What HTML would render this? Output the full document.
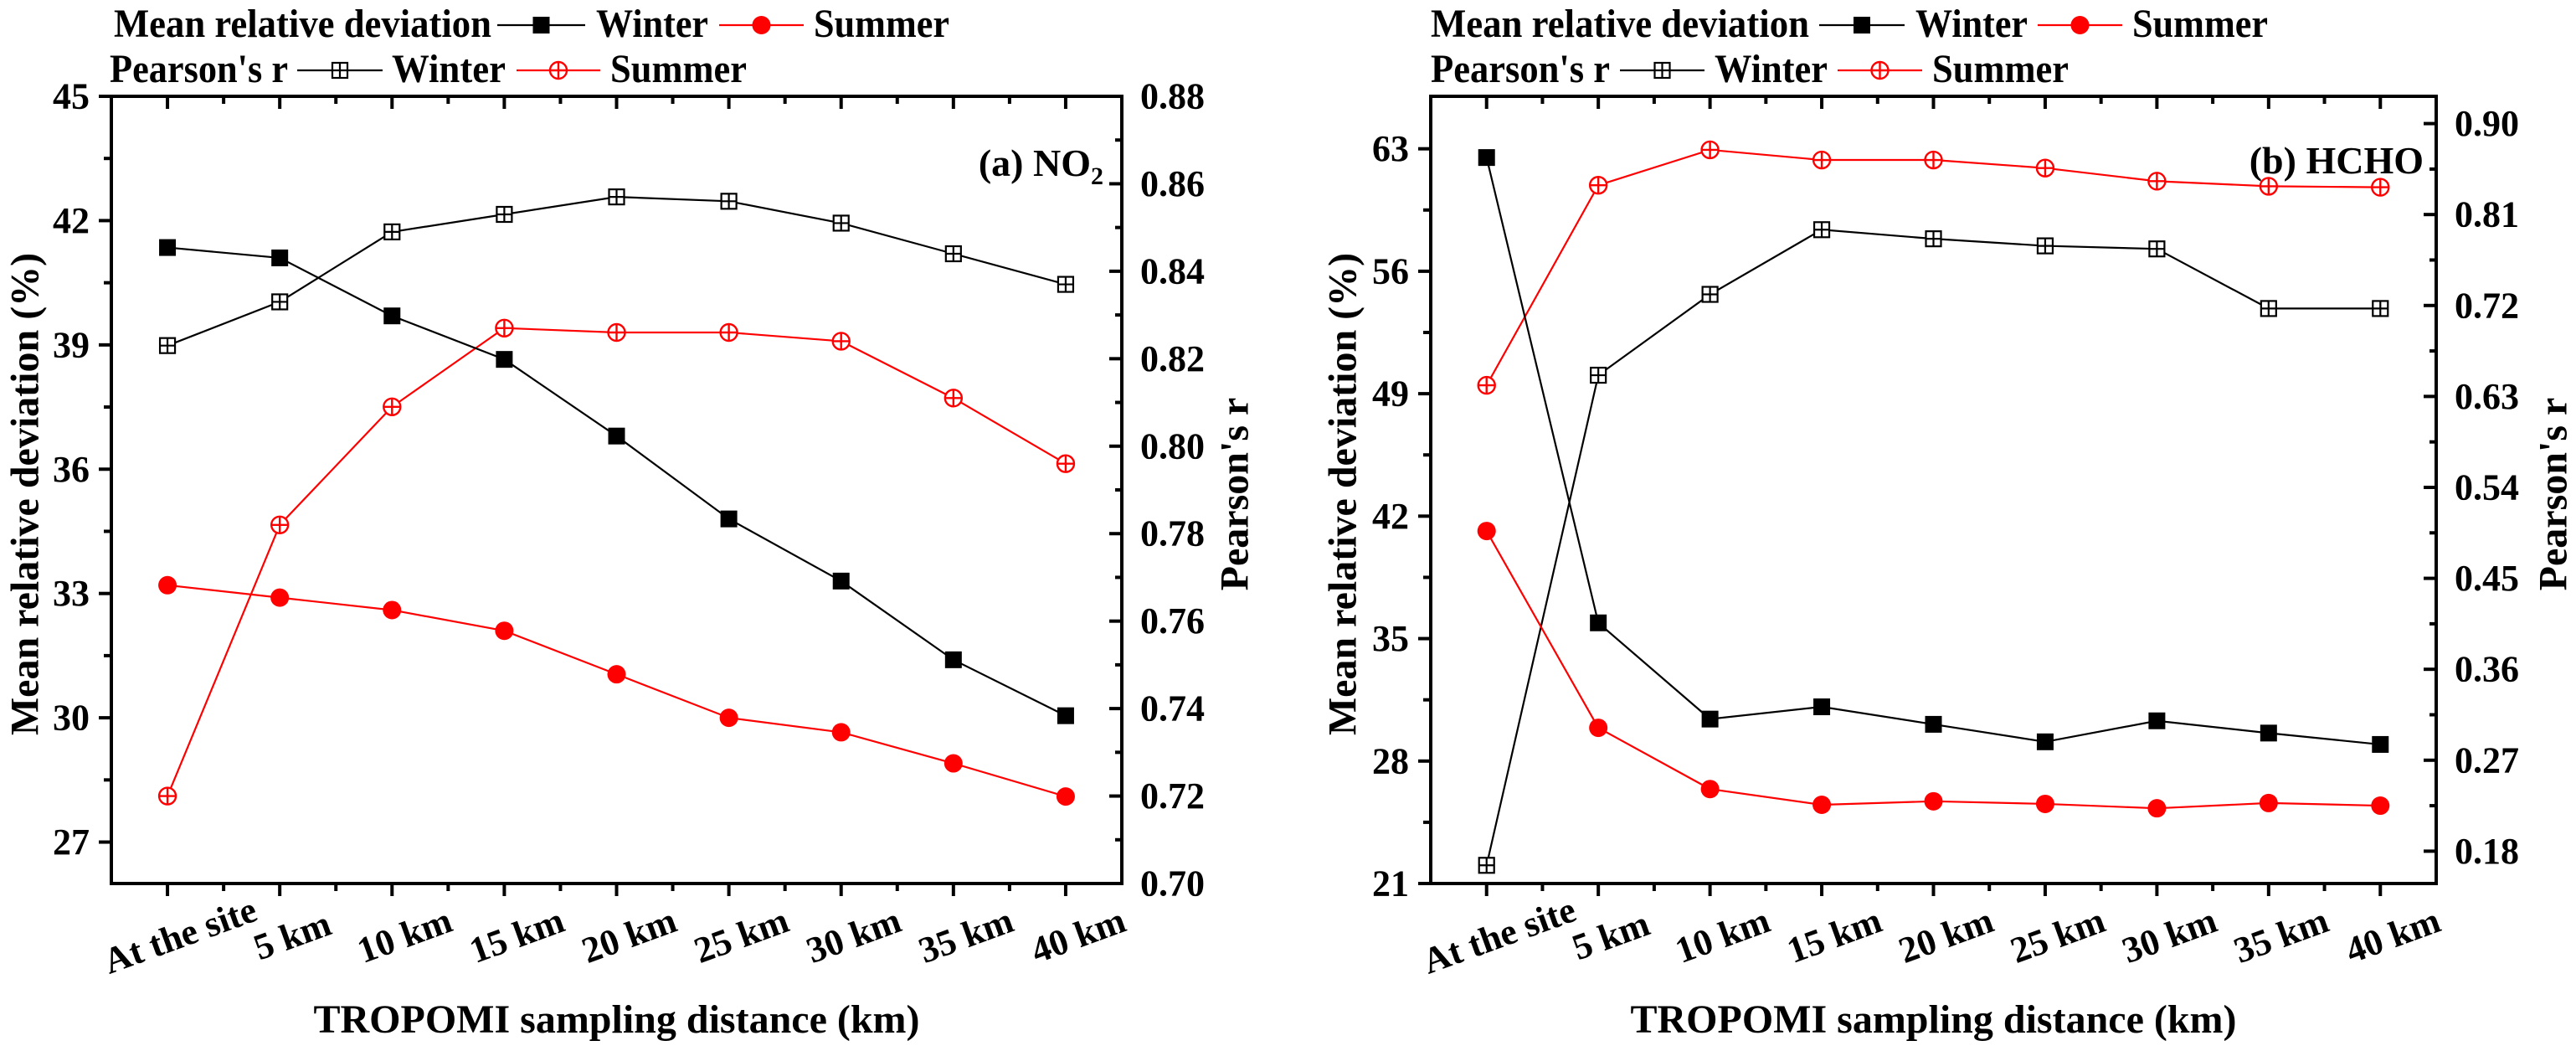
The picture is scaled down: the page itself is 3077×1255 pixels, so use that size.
<!DOCTYPE html>
<html><head><meta charset="utf-8"><style>
html,body{margin:0;padding:0;background:#fff;}
svg, svg text{font-family:"Liberation Serif","Times New Roman",serif !important;font-weight:bold;}
svg text{fill:#000;}
</style></head><body>
<svg id="chart" width="3077" height="1250" viewBox="0 0 3077 1250" font-family="Liberation Serif, serif" font-weight="bold" xmlns="http://www.w3.org/2000/svg"></svg>
<script>
const categories = ["At the site","5 km","10 km","15 km","20 km","25 km","30 km","35 km","40 km"];
// Panel (a) NO2
const no2MrdWinter = [41.35,41.1,39.7,38.65,36.8,34.8,33.3,31.4,30.05];
const no2MrdSummer = [33.2,32.9,32.6,32.1,31.05,30.0,29.65,28.9,28.1];
const no2RWinter = [0.823,0.833,0.849,0.853,0.857,0.856,0.851,0.844,0.837];
const no2RSummer = [0.720,0.782,0.809,0.827,0.826,0.826,0.824,0.811,0.796];
const no2LeftTicks = [27,30,33,36,39,42,45];
const no2RightTicks = ["0.70","0.72","0.74","0.76","0.78","0.80","0.82","0.84","0.86","0.88"];
// Panel (b) HCHO
const hchoMrdWinter = [62.5,35.9,30.4,31.1,30.1,29.1,30.3,29.6,28.95];
const hchoMrdSummer = [41.15,29.9,26.4,25.5,25.7,25.55,25.3,25.6,25.45];
const hchoRWinter = [0.166,0.651,0.731,0.795,0.786,0.779,0.776,0.717,0.717];
const hchoRSummer = [0.641,0.839,0.874,0.864,0.864,0.856,0.843,0.838,0.837];
const hchoLeftTicks = [21,28,35,42,49,56,63];
const hchoRightTicks = ["0.18","0.27","0.36","0.45","0.54","0.63","0.72","0.81","0.90"];

const NS="http://www.w3.org/2000/svg";
const svg=document.getElementById('chart');
const FF='Liberation Serif, serif';
function mk(tag,attrs,parent){const e=document.createElementNS(NS,tag);for(const k in attrs)e.setAttribute(k,attrs[k]);(parent||svg).appendChild(e);return e;}
function txt(s,attrs,parent){attrs['font-family']=FF;attrs['font-weight']='bold';const e=mk('text',attrs,parent);e.textContent=s;return e;}

function panel(cfg){
  const g=mk('g',{});
  
  
  const L=cfg.left,R=cfg.right,T=115,B=1055;
  const step=(R-L)/categories.length;
  const xS=i=>L+step*(i+0.5);
  const yL=v=>B-(v-cfg.lmin)/(cfg.lmax-cfg.lmin)*(B-T);
  const yR=v=>B-(v-cfg.rmin)/(cfg.rmax-cfg.rmin)*(B-T);
  const fr=mk('rect',{x:L,y:T,width:R-L,height:B-T,fill:'none',stroke:'#000','stroke-width':4},g);
  
  
  for(let i=0;i<categories.length;i++){
    const x=xS(i);
    mk('line',{x1:x,y1:B,x2:x,y2:B+15,stroke:'#000','stroke-width':4},g);
    mk('line',{x1:x,y1:T,x2:x,y2:T+15,stroke:'#000','stroke-width':4},g);
    const xm=x-step/2;
    if(i>0){mk('line',{x1:xm,y1:B,x2:xm,y2:B+9,stroke:'#000','stroke-width':4},g);
    mk('line',{x1:xm,y1:T,x2:xm,y2:T+9,stroke:'#000','stroke-width':4},g);}
    const cx=x+15,cy=1117;
    const t=txt(categories[i],{x:cx,y:cy,'text-anchor':'middle','dominant-baseline':'central','font-size':44,transform:`rotate(-20 ${cx} ${cy})`},g);
    
    
  }
  const lt=cfg.lticks, ls=lt[1]-lt[0];
  for(const v of lt){
    const y=yL(v);
    mk('line',{x1:L-15,y1:y,x2:L,y2:y,stroke:'#000','stroke-width':4},g);
    const t=txt(String(v),{x:L-26,y:y,'text-anchor':'end','dominant-baseline':'central','font-size':44},g);
    
    
    const vm=v+ls/2; if(vm<cfg.lmax){const ym=yL(vm);mk('line',{x1:L-9,y1:ym,x2:L,y2:ym,stroke:'#000','stroke-width':4},g);}
    const vm2=v-ls/2; if(v===lt[0]&&vm2>cfg.lmin){const ym=yL(vm2);mk('line',{x1:L-9,y1:ym,x2:L,y2:ym,stroke:'#000','stroke-width':4},g);}
  }
  const rt=cfg.rticks.map(Number), rs=rt[1]-rt[0];
  cfg.rticks.forEach((lab,k)=>{
    const v=rt[k],y=yR(v);
    mk('line',{x1:R-15,y1:y,x2:R,y2:y,stroke:'#000','stroke-width':4},g);
    const t=txt(lab,{x:R+22,y:y,'text-anchor':'start','dominant-baseline':'central','font-size':44},g);
    
    
    const vm=v+rs/2; if(vm<cfg.rmax){const ym=yR(vm);mk('line',{x1:R-8,y1:ym,x2:R,y2:ym,stroke:'#000','stroke-width':4},g);}
    if(k===0&&v-rs/2>cfg.rmin){const ym=yR(v-rs/2);mk('line',{x1:R-8,y1:ym,x2:R,y2:ym,stroke:'#000','stroke-width':4},g);}
  });
  function series(vals,yf,color,type,name){
    const sg=mk('g',{},g);
    
    
    mk('polyline',{points:vals.map((v,i)=>xS(i)+','+yf(v)).join(' '),fill:'none',stroke:color,'stroke-width':2.2},sg);
    vals.forEach((v,i)=>marker(sg,xS(i),yf(v),color,type));
  }
  series(cfg.rw,yR,'#000','osq',cfg.name+'-r-winter-line');
  series(cfg.rs,yR,'#f00','ocirc',cfg.name+'-r-summer-line');
  series(cfg.mw,yL,'#000','sq',cfg.name+'-mrd-winter-line');
  series(cfg.ms,yL,'#f00','circ',cfg.name+'-mrd-summer-line');
  const yt=txt('Mean relative deviation (%)',{x:cfg.ltx,y:590,'text-anchor':'middle','dominant-baseline':'central','font-size':48,transform:`rotate(-90 ${cfg.ltx} 590)`},g);
  
  
  const rt2=txt("Pearson's r",{x:cfg.rtx,y:590,'text-anchor':'middle','dominant-baseline':'central','font-size':48,transform:`rotate(-90 ${cfg.rtx} 590)`},g);
  
  
  const xt=txt('TROPOMI sampling distance (km)',{x:(L+R)/2,y:1233,'text-anchor':'middle','font-size':48},g);
  
  
  const an=txt('',{x:cfg.annX,y:cfg.annY,'text-anchor':'end','font-size':46},g);
  an.innerHTML=cfg.ann;
  
  
  const lg=mk('g',{},g);
  
  
  const lgd=cfg.legend;
  function ltxt(s,x,y,w){const t=txt(s,{x:x,y:y,'font-size':48,textLength:w,lengthAdjust:'spacingAndGlyphs'},lg);}
  function lline(x1,x2,y,color,type){const e=mk('g',{},lg);mk('line',{x1:x1,y1:y,x2:x2,y2:y,stroke:color,'stroke-width':2.2},e);marker(e,(x1+x2)/2,y,color,type);}
  ltxt('Mean relative deviation',lgd[0],44,lgd[1]-lgd[0]);
  lline(lgd[2],lgd[3],30,'#000','sq');
  ltxt('Winter',lgd[4],44,lgd[5]-lgd[4]);
  lline(lgd[6],lgd[7],30,'#f00','circ');
  ltxt('Summer',lgd[8],44,lgd[9]-lgd[8]);
  ltxt("Pearson's r",lgd[10],98,lgd[11]-lgd[10]);
  lline(lgd[12],lgd[13],84,'#000','osq');
  ltxt('Winter',lgd[14],98,lgd[15]-lgd[14]);
  lline(lgd[16],lgd[17],84,'#f00','ocirc');
  ltxt('Summer',lgd[18],98,lgd[19]-lgd[18]);
}
function marker(p,x,y,color,type){
  if(type==='sq'){mk('rect',{x:x-10,y:y-10,width:20,height:20,fill:color},p);}
  else if(type==='circ'){mk('circle',{cx:x,cy:y,r:11,fill:color},p);}
  else if(type==='osq'){mk('rect',{x:x-9,y:y-9,width:18,height:18,fill:'#fff',stroke:color,'stroke-width':2.2},p);
    mk('path',{d:`M${x-9} ${y}H${x+9}M${x} ${y-9}V${y+9}`,stroke:color,'stroke-width':2.2},p);}
  else {mk('circle',{cx:x,cy:y,r:10,fill:'#fff',stroke:color,'stroke-width':2.4},p);
    mk('path',{d:`M${x-10} ${y}H${x+10}M${x} ${y-10}V${y+10}`,stroke:color,'stroke-width':2.4},p);}
}
const la=v=>Math.round(v*0.982);
const lb=v=>Math.round(1540+v*0.982);
panel({name:'panel-a-no2',left:133,right:1340,lmin:26,lmax:45,rmin:0.70,rmax:0.88,
  lticks:no2LeftTicks,rticks:no2RightTicks,mw:no2MrdWinter,ms:no2MrdSummer,rw:no2RWinter,rs:no2RSummer,
  ltx:30,rtx:1475,ann:'(a) NO<tspan font-size="30" dy="10">2</tspan>',annX:1318,annY:210,
  legend:[138,598,605,712,725,862,875,978,990,1155,133,350,362,465,477,615,628,730,742,908].map(la)});
panel({name:'panel-b-hcho',left:1709,right:2910,lmin:21,lmax:66,rmin:0.148,rmax:0.927,
  lticks:hchoLeftTicks,rticks:hchoRightTicks,mw:hchoMrdWinter,ms:hchoMrdSummer,rw:hchoRWinter,rs:hchoRSummer,
  ltx:1604,rtx:3050,ann:'(b) HCHO',annX:2895,annY:207,
  legend:[172,632,645,748,762,898,910,1013,1025,1190,172,390,402,505,517,655,667,770,782,948].map(lb)});
</script>
</body></html>
